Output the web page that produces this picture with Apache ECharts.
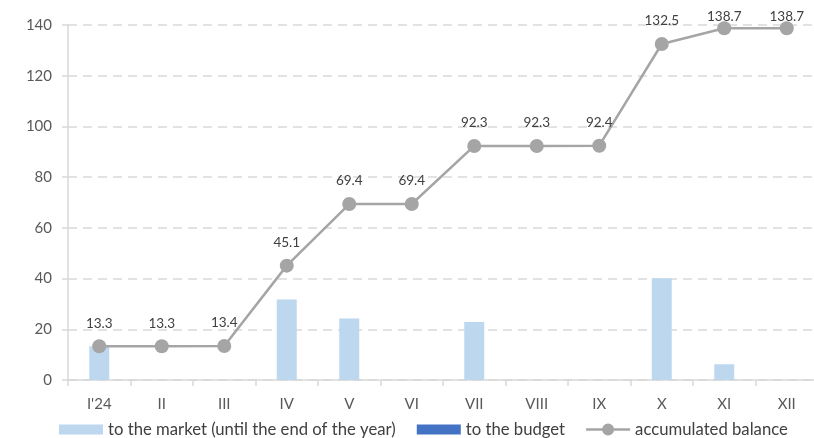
<!DOCTYPE html>
<html>
<head>
<meta charset="utf-8">
<script src="https://cdn.jsdelivr.net/npm/echarts@6/dist/echarts.min.js"></script>
<style>
  html, body { margin: 0; padding: 0; background: #fff; }
  #chart { width: 814px; height: 438px; }
</style>
</head>
<body>
<div id="chart"></div>
<script>
// Monthly categories
const months = ["I'24", "II", "III", "IV", "V", "VI", "VII", "VIII", "IX", "X", "XI", "XII"];
// Amounts released to the market (until the end of the year)
const toMarket = [13.3, 0, 0, 31.7, 24.3, 0, 22.9, 0, 0, 40.1, 6.2, 0];
// Amounts transferred to the budget
const toBudget = [0, 0, 0, 0, 0, 0, 0, 0, 0, 0, 0, 0];
// Accumulated balance
const accumulated = [13.3, 13.3, 13.4, 45.1, 69.4, 69.4, 92.3, 92.3, 92.4, 132.5, 138.7, 138.7];

const FONT = 'Lato';

// Legend icons: a flat swatch for the bars, a line with a dot for the balance
const SWATCH_ICON = 'path://M0,0H44V10H0Z';
const LINE_ICON = 'path://M0,4.7H17V7.3H0Z M27,4.7H44V7.3H27Z M28,6A6,6 0 1,1 16,6A6,6 0 1,1 28,6Z';

const chart = echarts.init(document.getElementById('chart'), null, { renderer: 'canvas' });

chart.setOption({
  animation: false,
  textStyle: { fontFamily: FONT },
  // plot area runs slightly past the right edge of the canvas
  grid: { left: 68, width: 750, top: 25, bottom: 58, outerBoundsMode: 'none', containLabel: false },
  legend: {
    bottom: 0,
    left: 59,
    padding: 0,
    itemGap: 21,
    itemWidth: 44,
    itemHeight: 12,
    textStyle: { fontFamily: FONT, fontSize: 16.7, color: '#404040' },
    data: [
      { name: 'to the market (until the end of the year)', icon: SWATCH_ICON },
      { name: 'to the budget', icon: SWATCH_ICON },
      { name: 'accumulated balance', icon: LINE_ICON }
    ]
  },
  xAxis: {
    type: 'category',
    data: months,
    boundaryGap: true,
    axisLine: { lineStyle: { color: '#D9D9D9', width: 1.5 } },
    axisTick: { show: true, length: 6, lineStyle: { color: '#D9D9D9', width: 1.5 } },
    axisLabel: { color: '#595959', fontSize: 15, margin: 17, fontFamily: FONT }
  },
  yAxis: {
    type: 'value',
    min: 0,
    max: 140,
    interval: 20,
    axisLine: { show: true, lineStyle: { color: '#D9D9D9', width: 1.5 } },
    axisTick: { show: true, length: 6, lineStyle: { color: '#D9D9D9', width: 1.5 } },
    axisLabel: { color: '#595959', fontSize: 15, margin: 16, fontFamily: FONT },
    splitLine: { lineStyle: { color: '#D9D9D9', width: 1.5, type: [9, 6] } }
  },
  series: [
    {
      name: 'to the market (until the end of the year)',
      type: 'bar',
      stack: 'flows',
      barWidth: 20,
      data: toMarket,
      itemStyle: { color: '#BDD7EE' }
    },
    {
      name: 'to the budget',
      type: 'bar',
      stack: 'flows',
      barWidth: 20,
      data: toBudget,
      itemStyle: { color: '#4472C4' }
    },
    {
      name: 'accumulated balance',
      type: 'line',
      data: accumulated,
      symbol: 'circle',
      symbolSize: 14,
      lineStyle: { color: '#A5A5A5', width: 2.5 },
      itemStyle: { color: '#A5A5A5' },
      label: {
        show: true,
        position: 'top',
        distance: 9,
        color: '#404040',
        fontSize: 13.5,
        fontFamily: FONT,
        formatter: p => p.value.toFixed(1)
      },
      // keep value labels inside the canvas near the top
      labelLayout: function (params) {
        const top = params.labelRect.y;
        return top < 10 ? { dy: 10 - top } : {};
      }
    }
  ]
});
</script>
</body>
</html>
